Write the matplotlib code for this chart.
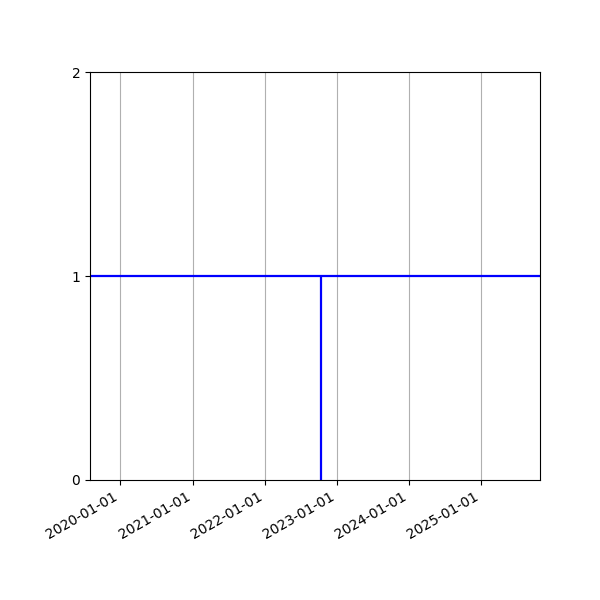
import matplotlib
matplotlib.use("Agg")
import matplotlib.pyplot as plt
import matplotlib.dates as mdates
import pandas as pd

# --- data ---
level = 1
event_dates = ["2022-10-15"]
event_low = [0]
event_high = [1]
x_range = ["2019-08-01", "2025-10-26"]
y_ticks = [0, 1, 2]

fig, ax = plt.subplots(figsize=(6, 6), dpi=100)

ax.axhline(y=level, color="blue", linewidth=1.6)
ax.vlines(pd.to_datetime(event_dates), event_low, event_high, color="blue", linewidth=1.6)

ax.set_xlim(pd.to_datetime(x_range[0]), pd.to_datetime(x_range[1]))
ax.set_ylim(y_ticks[0], y_ticks[-1])
ax.set_yticks(y_ticks)

ax.xaxis.set_major_locator(mdates.YearLocator())
ax.xaxis.set_major_formatter(mdates.DateFormatter("%Y-%m-%d"))
ax.grid(axis="x", color="#b0b0b0")

fig.autofmt_xdate()
fig.subplots_adjust(left=0.15, right=0.9, top=0.88, bottom=0.2)
fig.savefig("out.png")
